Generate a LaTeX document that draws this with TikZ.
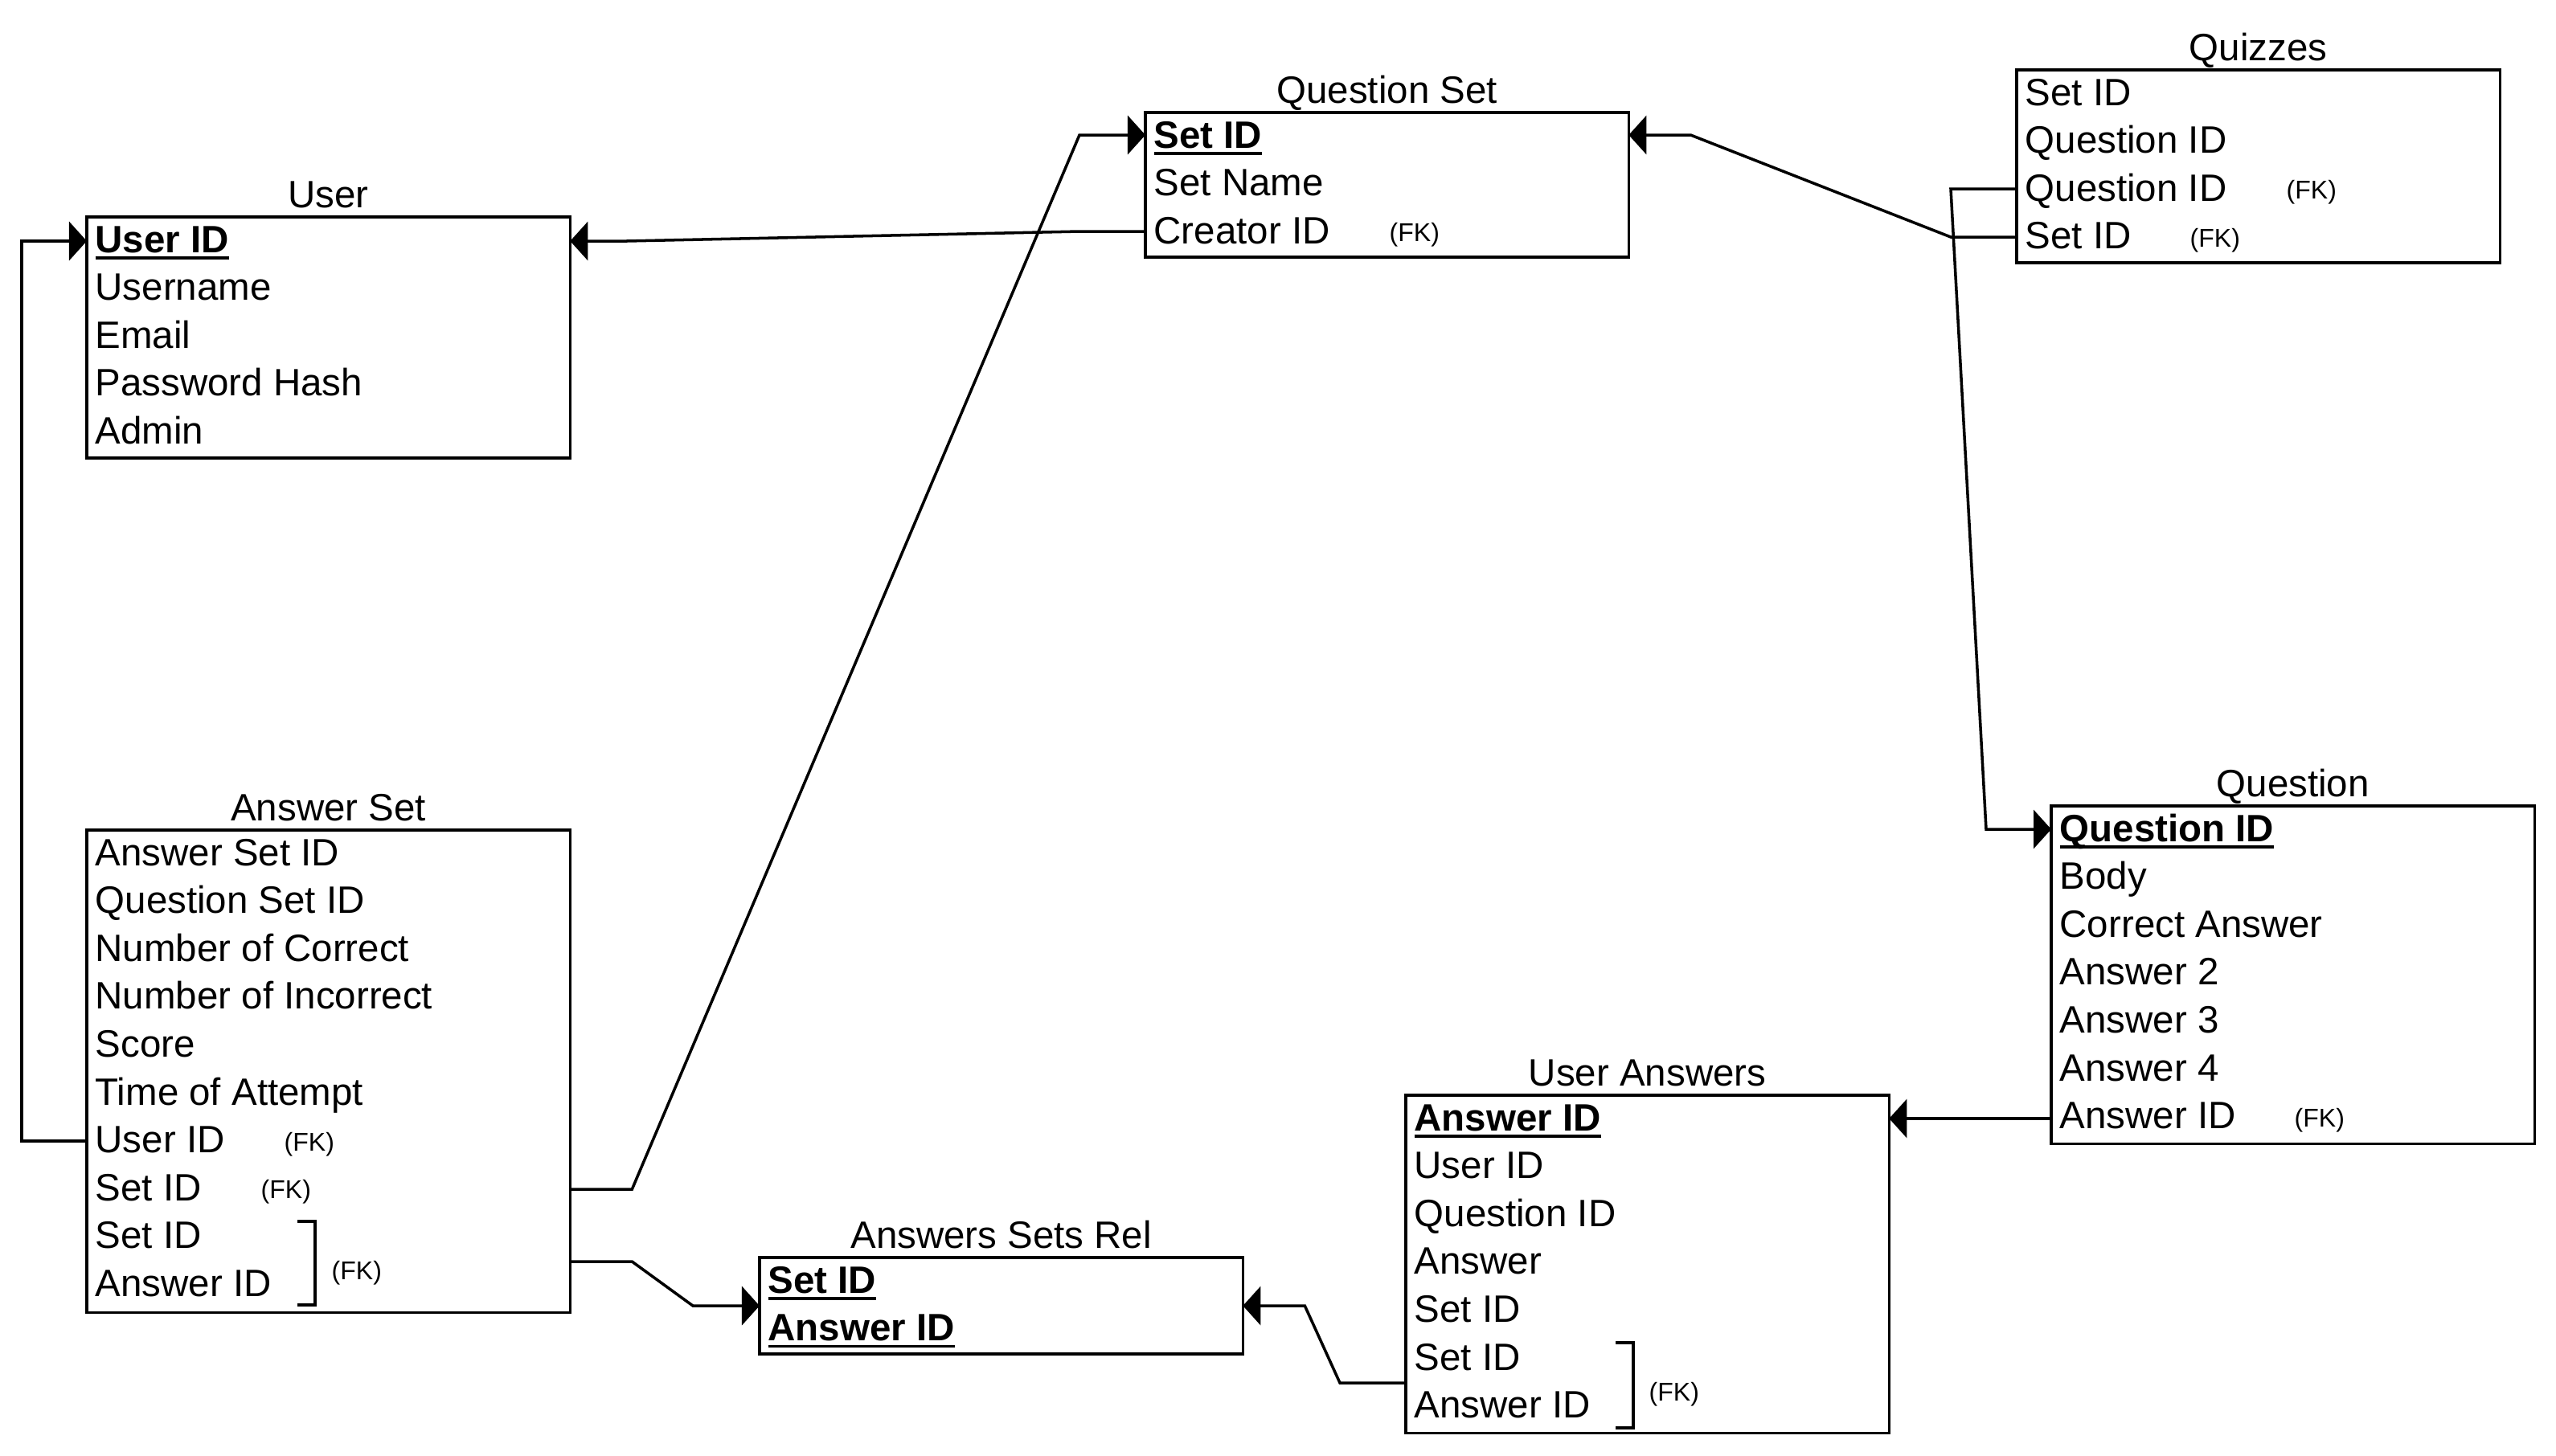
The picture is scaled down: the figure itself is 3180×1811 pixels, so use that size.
\documentclass[tikz,border=0pt]{standalone}
\usepackage{fontspec}
\setmainfont{Liberation Sans}
\usetikzlibrary{arrows.meta,calc}
\newcommand\mainsz{\fontsize{13.5pt}{16pt}\selectfont}
\newcommand\fksz{\fontsize{9.1pt}{11pt}\selectfont}
\newcommand\pk[1]{\setbox0\hbox{\bfseries #1}\rlap{\rule[-2.5pt]{\wd0}{1pt}}\box0}
\begin{document}
\begin{tikzpicture}[x=0.01cm,y=-0.01cm,
  ent/.style={draw, line width=1pt, inner sep=0pt, outer sep=0pt, minimum width=6.01cm, anchor=north west},
  ttl/.style={anchor=base, inner sep=0pt, font=\mainsz},
  fld/.style={anchor=base west, inner sep=0pt, font=\mainsz},
  fk/.style={anchor=base west, inner sep=0pt, font=\fksz},
  conn/.style={line width=1pt},
  arr/.style={conn, -{Triangle[length=0.22cm,width=0.48cm]}},
  brk/.style={line width=1pt}]
\useasboundingbox (0,0) rectangle (3180,1811);

% boxes
\node[ent, minimum height=3cm] (user) at (108,270) {};
\node[ent, minimum height=1.8cm] (qset) at (1425,140) {};
\node[ent, minimum height=2.4cm] (quiz) at (2509,87) {};
\node[ent, minimum height=6cm] (aset) at (108,1033) {};
\node[ent, minimum height=1.2cm] (asr) at (945,1565) {};
\node[ent, minimum height=4.2cm] (ua) at (1749,1363) {};
\node[ent, minimum height=4.2cm] (q) at (2552,1003) {};

% titles
\node[ttl] (user-t) at ($(user.north)+(0,-12)$) {User};
\node[ttl] (qset-t) at ($(qset.north)+(0,-12)$) {Question Set};
\node[ttl] (quiz-t) at ($(quiz.north)+(0,-12)$) {Quizzes};
\node[ttl] (aset-t) at ($(aset.north)+(0,-12)$) {Answer Set};
\node[ttl] (asr-t) at ($(asr.north)+(0,-12)$) {Answers Sets Rel};
\node[ttl] (ua-t) at ($(ua.north)+(0,-12)$) {User Answers};
\node[ttl] (q-t) at ($(q.north)+(0,-12)$) {Question};

% fields
\foreach \t [count=\i from 0] in {\pk{User ID},Username,Email,Password Hash,Admin}
  \node[fld] (user-f\i) at ($(user.north west)+(10,{44+59.6*\i})$) {\t};
\foreach \t [count=\i from 0] in {\pk{Set ID},Set Name,Creator ID}
  \node[fld] (qset-f\i) at ($(qset.north west)+(10,{44+59.6*\i})$) {\t};
\foreach \t [count=\i from 0] in {Set ID,Question ID,Question ID,Set ID}
  \node[fld] (quiz-f\i) at ($(quiz.north west)+(10,{44+59.6*\i})$) {\t};
\foreach \t [count=\i from 0] in {Answer Set ID,Question Set ID,Number of Correct,Number of Incorrect,Score,Time of Attempt,User ID,Set ID,Set ID,Answer ID}
  \node[fld] (aset-f\i) at ($(aset.north west)+(10,{44+59.6*\i})$) {\t};
\foreach \t [count=\i from 0] in {\pk{Set ID},\pk{Answer ID}}
  \node[fld] (asr-f\i) at ($(asr.north west)+(10,{44+59.6*\i})$) {\t};
\foreach \t [count=\i from 0] in {\pk{Answer ID},User ID,Question ID,Answer,Set ID,Set ID,Answer ID}
  \node[fld] (ua-f\i) at ($(ua.north west)+(10,{44+59.6*\i})$) {\t};
\foreach \t [count=\i from 0] in {\pk{Question ID},Body,Correct Answer,Answer 2,Answer 3,Answer 4,Answer ID}
  \node[fld] (q-f\i) at ($(q.north west)+(10,{44+59.6*\i})$) {\t};

% FK labels
\node[fk] (qset-fk) at ($(qset.north west)+(303,160)$) {(FK)};
\node[fk] (quiz-fk1) at ($(quiz.north west)+(335,160)$) {(FK)};
\node[fk] (quiz-fk2) at ($(quiz.north west)+(215,220)$) {(FK)};
\node[fk] (q-fk) at ($(q.north west)+(302,399)$) {(FK)};
\node[fk] (aset-fk1) at ($(aset.north west)+(245,399)$) {(FK)};
\node[fk] (aset-fk2) at ($(aset.north west)+(216,458)$) {(FK)};
\node[fk] (aset-fk3) at ($(aset.north west)+(304,559)$) {(FK)};
\node[fk] (ua-fk) at ($(ua.north west)+(302,380)$) {(FK)};

% brackets
\draw[brk] ($(aset.north west)+(262,487)$) -| ($(aset.north west)+(284,591)$) -- ++(-22,0);
\draw[brk] ($(ua.north west)+(261,308)$) -| ($(ua.north west)+(283,414)$) -- ++(-22,0);

% connector end points
\coordinate (c1a) at ($(aset.north west)+(0,387)$);
\coordinate (c1b) at ($(user.north west)+(0,30)$);
\coordinate (c2a) at ($(qset.north west)+(0,148)$);
\coordinate (c2b) at ($(user.north east)+(0,30)$);
\coordinate (c3a) at ($(aset.north east)+(0,447)$);
\coordinate (c3b) at ($(qset.north west)+(0,28)$);
\coordinate (c4a) at ($(aset.north east)+(0,537)$);
\coordinate (c5a) at ($(ua.north west)+(0,358)$);
\coordinate (c6a) at ($(q.north west)+(0,389)$);
\coordinate (c6b) at ($(ua.north east)+(0,29)$);
\coordinate (c7a) at ($(quiz.north west)+(0,148)$);
\coordinate (c7b) at ($(q.north west)+(0,29)$);
\coordinate (c8a) at ($(quiz.north west)+(0,208)$);
\coordinate (c8b) at ($(qset.north east)+(0,28)$);

% connectors
\draw[arr] (c1a) -- ++(-81,0) |- (c1b);
\draw[arr] (c2a) -- ++(-82,0) -- ($(c2b)+(70,0)$) -- (c2b);
\draw[arr] (c3a) -- ++(77,0) -- ($(c3b)+(-82,0)$) -- (c3b);
\draw[arr] (c4a) -- ++(77,0) -- ($(asr.west)+(-83,0)$) -- (asr.west);
\draw[arr] (c5a) -- ++(-82,0) -- ($(asr.east)+(77,0)$) -- (asr.east);
\draw[arr] (c6a) -- (c6b);
\draw[arr] (c7a) -- ++(-82,0) -- ($(c7b)+(-81,0)$) -- (c7b);
\draw[arr] (c8a) -- ++(-82,0) -- ($(c8b)+(77,0)$) -- (c8b);
\end{tikzpicture}
\end{document}
